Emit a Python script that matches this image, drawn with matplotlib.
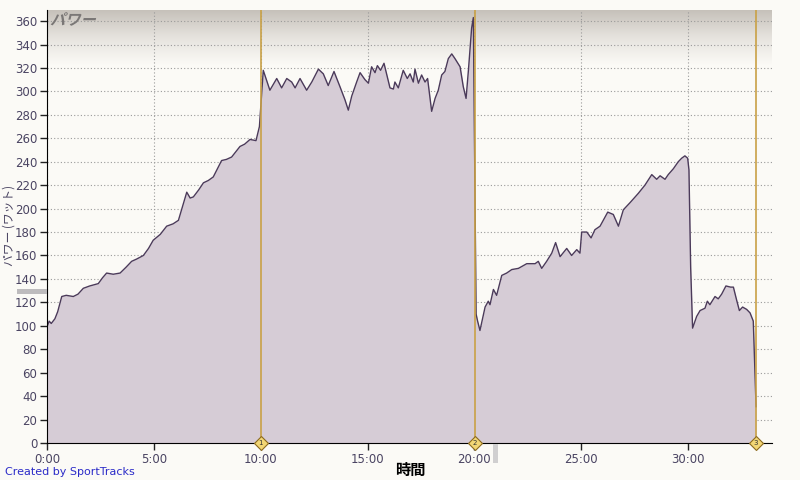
import numpy as np
import matplotlib
matplotlib.use("Agg")
import matplotlib.pyplot as plt
from matplotlib.patches import Rectangle, PathPatch
from matplotlib.textpath import TextPath
from matplotlib.font_manager import FontProperties
from matplotlib.transforms import Affine2D
from matplotlib.colors import LinearSegmentedColormap

# ---- data (minutes, watts) ----
time_min = [0.00, 0.10, 0.20, 0.37, 0.50, 0.69, 0.90, 1.23, 1.45, 1.70, 2.00, 2.40, 2.60, 2.79,
            3.10, 3.42, 3.70, 3.96, 4.20, 4.51, 4.75, 4.97, 5.30, 5.60, 5.90, 6.15, 6.54, 6.70,
            6.85, 7.10, 7.32, 7.55, 7.78, 8.17, 8.40, 8.64, 9.03, 9.25, 9.50, 9.78, 9.94, 10.05,
            10.12, 10.43, 10.75, 10.98, 11.22, 11.45, 11.61, 11.84, 12.15, 12.39, 12.70, 12.93,
            13.16, 13.43, 13.71, 13.94, 14.10, 14.26, 14.49, 14.65, 14.88, 15.04, 15.19, 15.35,
            15.46, 15.61, 15.77, 16.05, 16.21, 16.28, 16.44, 16.67, 16.86, 16.99, 17.14, 17.22,
            17.38, 17.53, 17.69, 17.81, 18.00, 18.16, 18.31, 18.47, 18.62, 18.78, 18.94, 19.09,
            19.33, 19.48, 19.61, 19.72, 19.87, 19.95, 20.02, 20.08, 20.15, 20.26, 20.50, 20.65,
            20.73, 20.89, 21.04, 21.28, 21.51, 21.75, 22.06, 22.45, 22.84, 22.99, 23.15, 23.38,
            23.62, 23.80, 24.01, 24.32, 24.55, 24.79, 24.94, 25.02, 25.26, 25.46, 25.64, 25.88,
            26.03, 26.24, 26.50, 26.74, 26.97, 27.28, 27.67, 27.98, 28.30, 28.53, 28.69, 28.92,
            29.07, 29.31, 29.54, 29.70, 29.85, 29.98, 30.04, 30.12, 30.21, 30.40, 30.56, 30.79,
            30.90, 31.02, 31.26, 31.41, 31.57, 31.77, 31.99, 32.12, 32.27, 32.40, 32.55, 32.74,
            32.90, 33.05, 33.13, 33.18]
power_w = [99, 104, 102, 106, 112, 125, 126, 125, 127, 132, 134, 136, 141, 145,
           144, 145, 150, 155, 157, 160, 166, 173, 178, 185, 187, 190, 214, 209,
           210, 216, 222, 224, 227, 241, 242, 244, 253, 255, 259, 258, 270, 300,
           318, 301, 311, 303, 311, 308, 303, 311, 301, 308, 319, 315,
           305, 317, 304, 293, 284, 296, 308, 316, 310, 307, 321, 316,
           322, 318, 324, 303, 302, 308, 303, 318, 311, 315, 308, 319,
           307, 314, 308, 311, 283, 294, 301, 314, 317, 328, 332, 328,
           321, 304, 294, 318, 354, 363, 230, 110, 104, 96, 116, 121,
           118, 131, 126, 143, 145, 148, 149, 153, 153, 155, 149, 155,
           162, 171, 159, 166, 160, 165, 162, 180, 180, 175, 182, 185,
           190, 197, 195, 185, 199, 205, 213, 220, 229, 225, 228, 225,
           229, 234, 240, 243, 245, 243, 233, 150, 98, 108, 113, 115,
           121, 118, 125, 123, 127, 134, 133, 133, 122, 113, 116, 114,
           111, 104, 59, 31]

lap_times = [10.0, 20.03, 33.18]
lap_labels = ["1", "2", "3"]
y_ticks = list(range(0, 361, 20))
x_ticks = [0, 5, 10, 15, 20, 25, 30]
x_tick_labels = ["0:00", "5:00", "10:00", "15:00", "20:00", "25:00", "30:00"]

BG = "#FBFAF6"
FILL = "#D6CCD6"
LINE = "#4B3A5A"
LAP = "#C9A146"
TXT = "#4A4462"
JP = ["Noto Sans CJK JP", "DejaVu Sans"]

plt.rcParams["font.family"] = ["DejaVu Sans", "Noto Sans CJK JP"]

fig = plt.figure(figsize=(8, 4.8), dpi=100, facecolor=BG)
ax = fig.add_axes([47/800, 37/480, (772-47)/800, (443-10)/480])
ax.set_facecolor(BG)
xmax = (772-47)/21.37
ymax = (443-10)/1.172
ax.set_xlim(0, xmax)
ax.set_ylim(0, ymax)

# top gradient band
grad = np.linspace(0, 1, 256).reshape(-1, 1)
cmap = LinearSegmentedColormap.from_list("g", [BG, "#E6E3DE", "#C6C1BA"])
ax.imshow(grad, cmap=cmap, aspect="auto", extent=[0, 1, 1 - 55/433, 1],
          transform=ax.transAxes, zorder=0, origin="lower", interpolation="bilinear")

ax.fill_between(time_min, power_w, 0, color=FILL, zorder=2, linewidth=0)
ax.plot(time_min, power_w, color=LINE, linewidth=1.0, zorder=3)

ax.set_yticks(y_ticks)
ax.set_xticks(x_ticks)
ax.set_xticklabels(x_tick_labels)
ax.tick_params(axis="both", colors="#222222", labelcolor=TXT, labelsize=8.5,
               length=5, width=1, direction="out", pad=2)
ax.grid(True, color="#9A9A9A", linestyle=(0, (1, 2)), linewidth=0.8)
for g in ax.get_xgridlines() + ax.get_ygridlines():
    g.set_zorder(2.5)

for s in ["top", "right"]:
    ax.spines[s].set_visible(False)
ax.spines["left"].set_color("#000000")
ax.spines["bottom"].set_color("#000000")
ax.spines["left"].set_zorder(5)
ax.spines["bottom"].set_zorder(5)

# lap lines with diamond markers
for lt, lb in zip(lap_times, lap_labels):
    ax.axvline(lt, color=LAP, linewidth=1.2, zorder=4)
    ax.plot([lt], [0], marker="D", markersize=7, markerfacecolor="#F2D675",
            markeredgecolor="#8C6A1E", markeredgewidth=0.8, clip_on=False, zorder=6)
    ax.text(lt, 0, lb, fontsize=5, ha="center", va="center", color="#333333",
            clip_on=False, zorder=7)

# italic-looking title inside the plot (skewed text path)
tp = TextPath((0, 0), "パワー", size=11,
              prop=FontProperties(family="Noto Sans CJK JP", weight="bold"))
tr = Affine2D().skew_deg(14, 0).scale(100/72).translate(50, 480 - 25)
fig.patches.append(PathPatch(tp, transform=tr, facecolor="#7A7776", edgecolor="none",
                             zorder=10))

fig.text(410/800, 1 - 470/480, "時間", fontsize=11, fontweight="bold", color="#000000",
         ha="center", va="center", family=JP)
fig.text(9/800, 1 - 225/480, "パワー (ワット)", fontsize=8.5, color=TXT, rotation=90,
         ha="center", va="center", family=JP)
fig.text(5/800, 1 - 472/480, "Created by SportTracks", fontsize=8, color="#2B2BC8",
         ha="left", va="center")

# UI artifacts
fig.patches.append(Rectangle((17/800, 1 - 294/480), 30/800, 5/480, transform=fig.transFigure,
                             facecolor="#BDBBBD", edgecolor="none"))
fig.patches.append(Rectangle((493/800, 1 - 463/480), 5/800, 19/480, transform=fig.transFigure,
                             facecolor="#D0CFD0", edgecolor="none"))

fig.savefig("out.png", dpi=100, facecolor=BG)
